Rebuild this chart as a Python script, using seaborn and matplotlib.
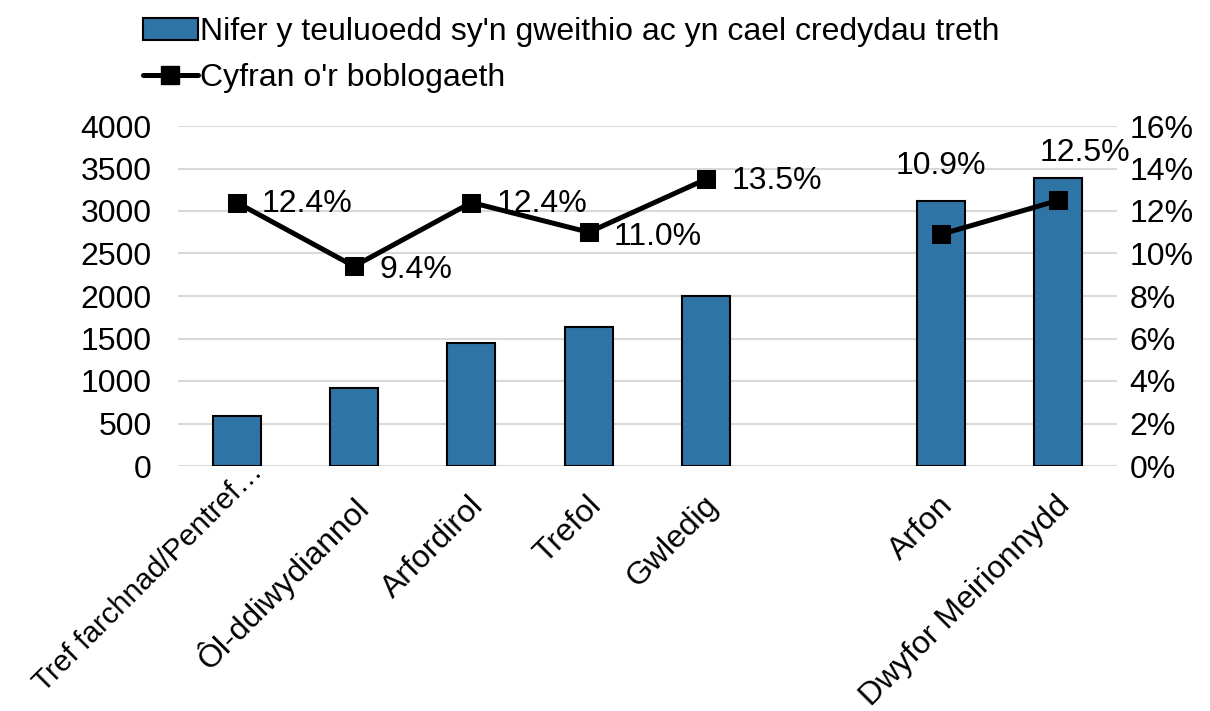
import matplotlib
matplotlib.use("Agg")
import matplotlib.pyplot as plt
import matplotlib.transforms as mtransforms
from matplotlib.patches import Patch
from matplotlib.lines import Line2D
import seaborn as sns
import pandas as pd
import numpy as np

categories = ["Tref farchnad/Pentref…", "Ôl-ddiwydiannol", "Arfordirol", "Trefol", "Gwledig",
              " ", "Arfon", "Dwyfor Meirionnydd"]
bar_cats = ["Tref farchnad/Pentref…", "Ôl-ddiwydiannol", "Arfordirol", "Trefol", "Gwledig",
            "Arfon", "Dwyfor Meirionnydd"]
families = [590, 915, 1445, 1635, 2000, 3115, 3390]
share_pct = [12.4, 9.4, 12.4, 11.0, 13.5, 10.9, 12.5]
line_group = ["a", "a", "a", "a", "a", "b", "b"]
bar_label = "Nifer y teuluoedd sy'n gweithio ac yn cael credydau treth"
line_label = "Cyfran o'r boblogaeth"

sns.set_theme(style="white")
plt.rcParams['font.family'] = ['Liberation Sans', 'DejaVu Sans']
plt.rcParams['text.color'] = 'black'
plt.rcParams['xtick.color'] = 'black'
plt.rcParams['ytick.color'] = 'black'
FS = 23

fig = plt.figure(figsize=(12.1, 7.11), dpi=100)
ax = fig.add_axes([178/1210, 1 - 466/711, (1117-178)/1210, (466-126)/711])

df_bar = pd.DataFrame({"cat": bar_cats, "val": families})
sns.barplot(data=df_bar, x="cat", y="val", order=categories, ax=ax,
            color="#2e75a6", saturation=1, width=0.41, edgecolor="black", linewidth=1.5, zorder=3)

ax.set_ylim(0, 4000)
ax.set_xlim(-0.5, 7.5)
ax.set_yticks(np.arange(0, 4001, 500))
ax.yaxis.grid(True, color="#d9d9d9", linewidth=1.5, zorder=0)
ax.set_axisbelow(True)
for s in ax.spines.values():
    s.set_visible(False)
ax.set_xlabel("")
ax.set_ylabel("")
ax.tick_params(axis="y", labelsize=FS, labelcolor="black", length=0, pad=19)
ax.tick_params(axis="x", labelsize=FS, labelcolor="black", length=0, pad=4)
for i, lab in enumerate(ax.get_xticklabels()):
    lab.set_rotation(45)
    lab.set_ha("right")
    lab.set_rotation_mode("anchor")
    if i == 0:
        lab.set_fontsize(21.5)
        dx, dy = (12, 14)
    else:
        dx, dy = (-3, -19)
    lab.set_transform(lab.get_transform() + mtransforms.ScaledTranslation(dx/100, dy/100, fig.dpi_scale_trans))

ax2 = ax.twinx()
pos = [categories.index(c) for c in bar_cats]
df_line = pd.DataFrame({"pos": pos, "pct": share_pct, "grp": line_group})
sns.lineplot(data=df_line, x="pos", y="pct", units="grp", estimator=None, ax=ax2,
             color="black", linewidth=3.6, marker="s", markersize=13,
             markeredgecolor="black", zorder=4, legend=False)
ax2.set_ylim(0, 16)
ax2.set_xlim(-0.5, 7.5)
ax2.set_yticks(np.arange(0, 17, 2))
ax2.set_yticklabels([f"{v}%" for v in range(0, 17, 2)])
ax2.tick_params(axis="y", labelsize=FS, labelcolor="black", length=0, pad=9)
ax2.grid(False)
for s in ax2.spines.values():
    s.set_visible(False)
ax2.set_xlabel("")
ax2.set_ylabel("")

# data labels (offsets in pixels)
offsets = [(25, -1), (25, -4), (25, -1), (25, -5), (25, -2), (0, 68), (27, 47)]
for i, (p, v) in enumerate(zip(pos, share_pct)):
    dx, dy = offsets[i]
    ax2.annotate(f"{v:.1f}%", (p, v), xytext=(dx * 0.72, dy * 0.72), textcoords="offset points",
                 ha="center" if i >= 5 else "left", va="center", fontsize=FS, color="black")

handles = [Patch(facecolor="#2e75a6", edgecolor="black", linewidth=1.5),
           Line2D([0], [0], color="black", linewidth=3.6, marker="s", markersize=13)]
fig.legend(handles, [bar_label, line_label], loc="upper left", bbox_to_anchor=(143/1210, 1 - 17/711),
           frameon=False, fontsize=FS, handlelength=1.72, handletextpad=0.08, labelspacing=0.5,
           borderaxespad=0, borderpad=0)

fig.savefig("out.png", dpi=100)
